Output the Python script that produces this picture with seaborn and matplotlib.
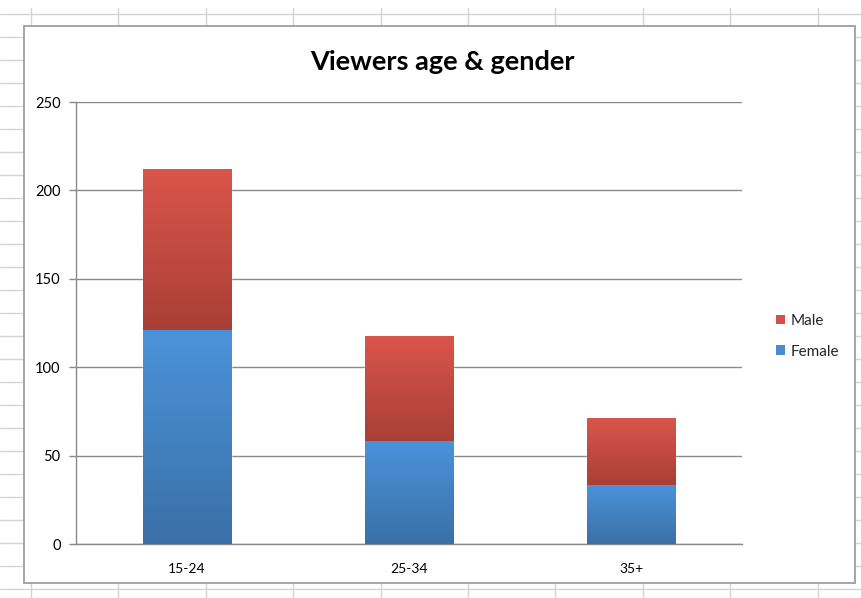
import matplotlib.pyplot as plt
import seaborn as sns
import pandas as pd
import numpy as np
from matplotlib.colors import LinearSegmentedColormap
from matplotlib.patches import Rectangle, Patch
from matplotlib.lines import Line2D

# Data
age_groups = ['15-24', '25-34', '35+']
female = [121, 58, 33]
male = [91, 59, 38]
y_ticks = [0, 50, 100, 150, 200, 250]

MALE_TOP, MALE_BOTTOM = '#da554b', '#a93f36'
FEMALE_TOP, FEMALE_BOTTOM = '#4b93da', '#3a70a6'

sns.set_theme(style='white')
plt.rcParams['font.family'] = ['Lato', 'DejaVu Sans']

W, H = 862, 598
fig = plt.figure(figsize=(W / 100, H / 100), dpi=100)
fig.patch.set_facecolor('white')

# spreadsheet cells behind the chart object
for x in np.arange(31, W, 87.4):
    fig.add_artist(Line2D([x / W, x / W], [0, 1 - 8 / H], color='#d4d4d4', lw=1, zorder=0))
for y in np.arange(14, H, 23):
    fig.add_artist(Line2D([0, 1], [1 - y / H, 1 - y / H], color='#d4d4d4', lw=1, zorder=0))

# chart frame
fig.add_artist(Rectangle((24 / W, 1 - 583 / H), (855 - 24) / W, (583 - 26) / H,
                         transform=fig.transFigure, facecolor='white',
                         edgecolor='#9e9e9e', lw=1.3, zorder=1))

ax = fig.add_axes([76 / W, 1 - 544 / H, (742 - 76) / W, (544 - 102) / H], zorder=2)
ax.set_facecolor('none')

df = pd.DataFrame({'age': age_groups, 'female': female, 'male': male})
df['total'] = df['female'] + df['male']

sns.barplot(data=df, x='age', y='total', color=MALE_TOP, width=0.4,
            saturation=1, ax=ax, zorder=2)
sns.barplot(data=df, x='age', y='female', color=FEMALE_TOP, width=0.4,
            saturation=1, ax=ax, zorder=2)

# vertical gradients like Excel's fill
grad = np.linspace(0, 1, 256).reshape(-1, 1)
male_cmap = LinearSegmentedColormap.from_list('m', [MALE_BOTTOM, MALE_TOP])
female_cmap = LinearSegmentedColormap.from_list('f', [FEMALE_BOTTOM, FEMALE_TOP])
n = len(age_groups)
tot_patches = ax.patches[:n]
fem_patches = ax.patches[n:2 * n]
for tp, fp in zip(tot_patches, fem_patches):
    x0, x1 = tp.get_x(), tp.get_x() + tp.get_width()
    ax.imshow(grad, extent=(x0, x1, fp.get_height(), tp.get_height()), origin='lower',
              aspect='auto', cmap=male_cmap, zorder=3, interpolation='bilinear')
    ax.imshow(grad, extent=(x0, x1, 0, fp.get_height()), origin='lower',
              aspect='auto', cmap=female_cmap, zorder=3, interpolation='bilinear')

ax.set_xlim(-0.5, n - 0.5)
ax.set_ylim(0, 250)
ax.set_yticks(y_ticks)
ax.set_xlabel('')
ax.set_ylabel('')

ax.yaxis.grid(True, color='#8a8a8a', lw=1)
ax.set_axisbelow(True)
for s in ['top', 'right']:
    ax.spines[s].set_visible(False)
for s in ['left', 'bottom']:
    ax.spines[s].set_color('#8a8a8a')
    ax.spines[s].set_linewidth(1)

ax.set_xticks(np.arange(-0.5, n), minor=True)
ax.tick_params(axis='x', which='major', length=0, pad=14, labelsize=10, labelcolor='black')
ax.tick_params(axis='x', which='minor', length=5, width=1, color='#8a8a8a', direction='out')
ax.tick_params(axis='y', length=5, width=1, color='#8a8a8a', direction='out',
               pad=6, labelsize=10.5, labelcolor='black')
ax.tick_params(bottom=True, left=True)

fig.text(442 / W, 1 - 62 / H, 'Viewers age & gender', ha='center', va='center',
         fontsize=19.5, fontweight='bold', color='black', zorder=3)

handles = [Patch(facecolor='#d4514a', edgecolor='none', label='Male'),
           Patch(facecolor='#4a8bcf', edgecolor='none', label='Female')]
fig.legend(handles=handles, loc='upper left', bbox_to_anchor=(762 / W, 1 - 300 / H),
           frameon=False, fontsize=11, handlelength=0.6, handleheight=0.6,
           handletextpad=0.4, labelspacing=1.1)

fig.savefig('out.png', dpi=100)
